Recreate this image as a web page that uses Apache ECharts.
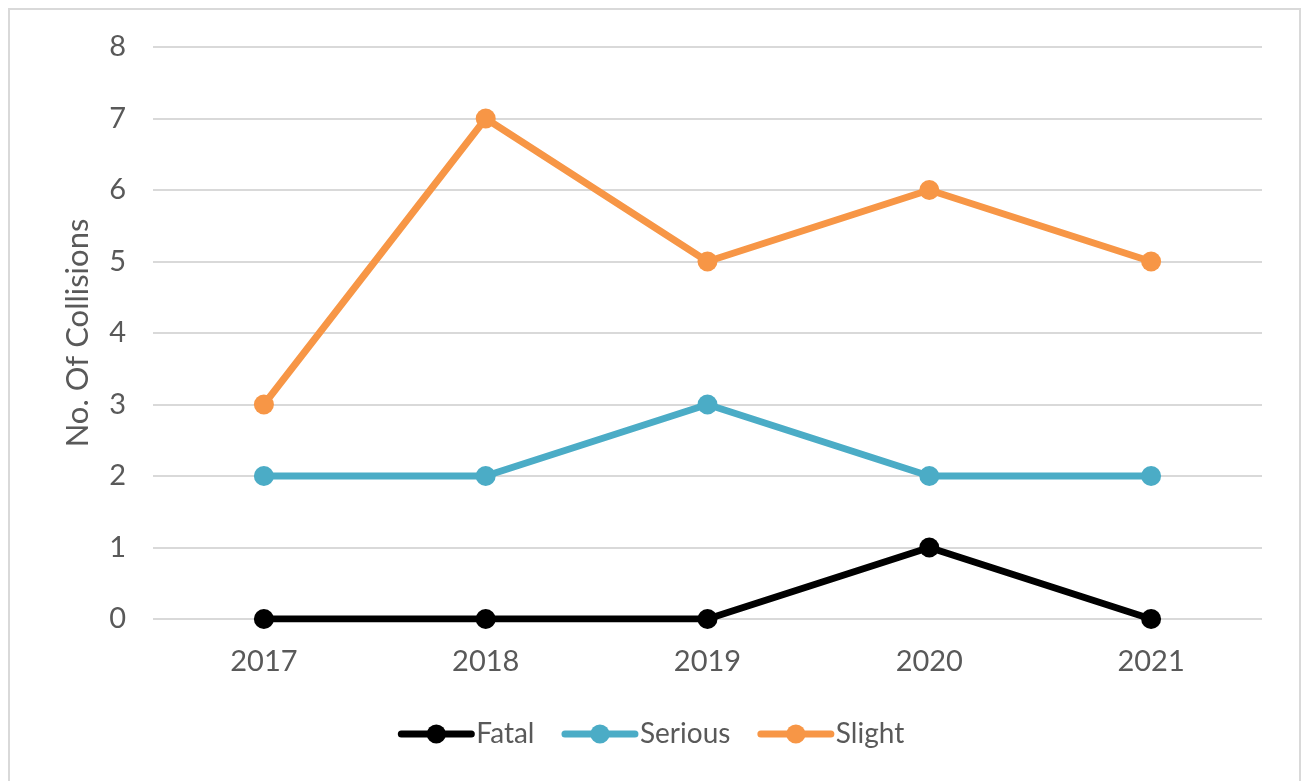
<!DOCTYPE html>
<html><head><meta charset="utf-8">
<script src="https://cdn.jsdelivr.net/npm/echarts@6/dist/echarts.min.js"></script>
<style>html,body{margin:0;padding:0;background:#fff}#c{width:1302px;height:781px}</style>
</head><body><div id="c"></div>
<script>
const categories = ['2017','2018','2019','2020','2021'];
const fatal = [0,0,0,1,0];
const serious = [2,2,3,2,2];
const slight = [3,7,5,6,5];
const seriesNames = ['Fatal','Serious','Slight'];
const yTicks = {min:0,max:8,interval:1};
const colors = ['#000000','#4BACC6','#F79646'];
const FONT = 'Lato, "Open Sans", sans-serif';
const chart = echarts.init(document.getElementById('c'), null, {renderer:'canvas'});
function mk(name, data, color){
  return {name, type:'line', data, color, symbol:'circle', symbolSize:20,
    lineStyle:{width:7,color,cap:'round',join:'round'}, itemStyle:{color}, emphasis:{disabled:true}, z:3};
}
chart.setOption({
  animation:false,
  graphic:[{type:'rect',shape:{x:9,y:9,width:1291,height:790},style:{fill:'none',stroke:'#d9d9d9',lineWidth:2},silent:true}],
  grid:{left:153,right:40,top:47,bottom:162,containLabel:false},
  xAxis:{type:'category',data:categories,boundaryGap:true,
    axisLine:{show:false},axisTick:{show:false},
    axisLabel:{color:'#595959',fontSize:29,fontFamily:FONT,margin:28}},
  yAxis:{type:'value',min:yTicks.min,max:yTicks.max,interval:yTicks.interval,
    name:'No. Of Collisions',nameLocation:'middle',nameGap:60,
    nameTextStyle:{color:'#595959',fontSize:31,fontFamily:FONT},
    axisLine:{show:false},axisTick:{show:false},
    axisLabel:{color:'#595959',fontSize:29,fontFamily:FONT,margin:27},
    splitLine:{lineStyle:{color:'#d9d9d9',width:2}}},
  legend:{data:seriesNames,bottom:28,left:'center',itemWidth:70,itemHeight:24,itemGap:27,
    lineStyle:{width:7,cap:'round'},
    textStyle:{color:'#595959',fontSize:28,fontFamily:FONT,padding:[0,0,0,0]}},
  series:[mk(seriesNames[0],fatal,colors[0]),mk(seriesNames[1],serious,colors[1]),mk(seriesNames[2],slight,colors[2])]
});
</script></body></html>
